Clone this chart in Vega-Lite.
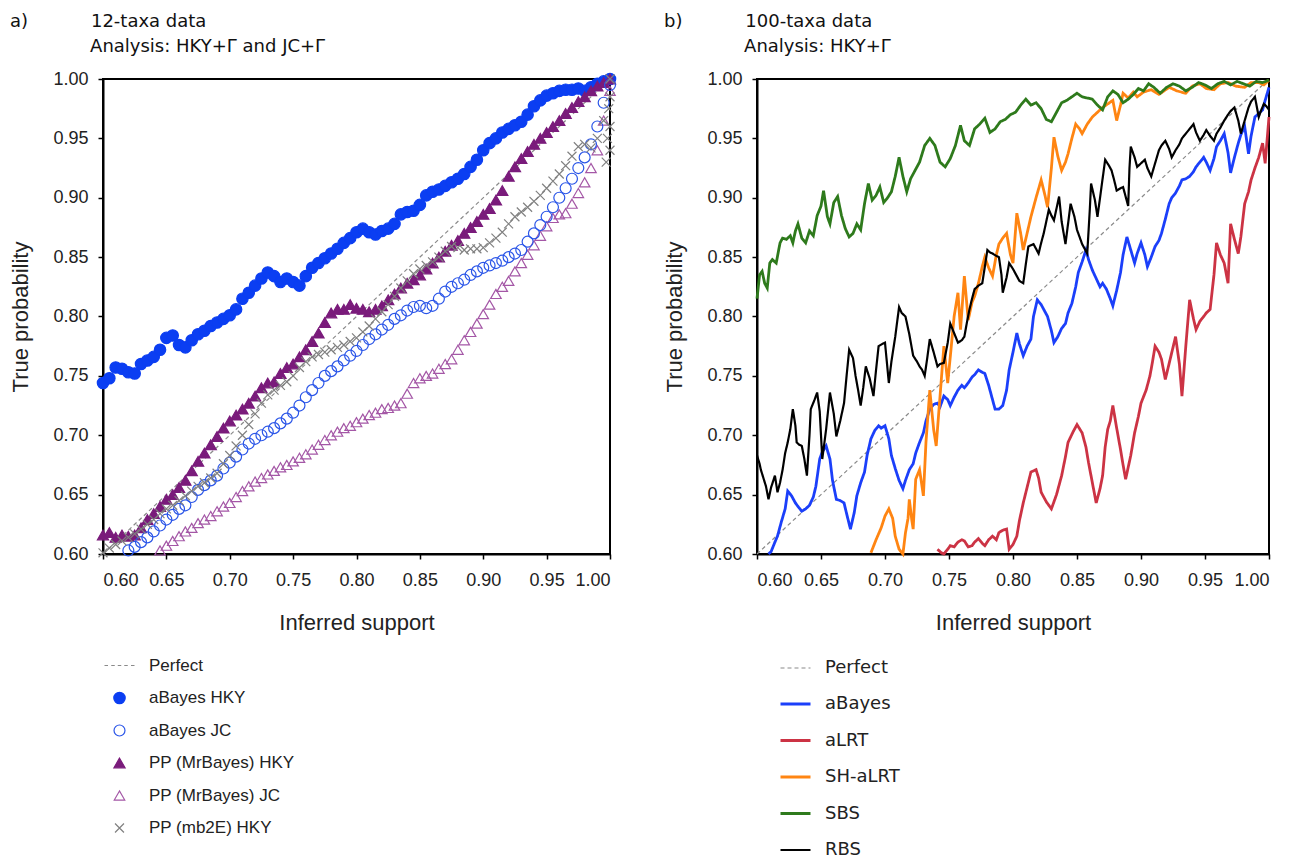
{
  "$schema": "https://vega.github.io/schema/vega-lite/v6.json",
  "background": "white",
  "padding": {"left": 8, "top": 12, "right": 5, "bottom": 0},
  "spacing": 42,
  "datasets": {
    "left": [
      {"s":"aBayes HKY","x":0.600,"y":0.744},{"s":"aBayes HKY","x":0.605,"y":0.748},{"s":"aBayes HKY","x":0.610,"y":0.757},{"s":"aBayes HKY","x":0.615,"y":0.756},{"s":"aBayes HKY","x":0.620,"y":0.753},{"s":"aBayes HKY","x":0.625,"y":0.752},{"s":"aBayes HKY","x":0.630,"y":0.760},{"s":"aBayes HKY","x":0.635,"y":0.763},{"s":"aBayes HKY","x":0.640,"y":0.766},{"s":"aBayes HKY","x":0.645,"y":0.772},{"s":"aBayes HKY","x":0.650,"y":0.782},{"s":"aBayes HKY","x":0.655,"y":0.784},{"s":"aBayes HKY","x":0.660,"y":0.776},{"s":"aBayes HKY","x":0.665,"y":0.774},{"s":"aBayes HKY","x":0.670,"y":0.780},{"s":"aBayes HKY","x":0.675,"y":0.785},{"s":"aBayes HKY","x":0.680,"y":0.788},{"s":"aBayes HKY","x":0.685,"y":0.792},{"s":"aBayes HKY","x":0.690,"y":0.795},{"s":"aBayes HKY","x":0.695,"y":0.798},{"s":"aBayes HKY","x":0.700,"y":0.801},{"s":"aBayes HKY","x":0.705,"y":0.806},{"s":"aBayes HKY","x":0.710,"y":0.815},{"s":"aBayes HKY","x":0.715,"y":0.820},{"s":"aBayes HKY","x":0.720,"y":0.826},{"s":"aBayes HKY","x":0.725,"y":0.832},{"s":"aBayes HKY","x":0.730,"y":0.837},{"s":"aBayes HKY","x":0.735,"y":0.834},{"s":"aBayes HKY","x":0.740,"y":0.829},{"s":"aBayes HKY","x":0.745,"y":0.832},{"s":"aBayes HKY","x":0.750,"y":0.829},{"s":"aBayes HKY","x":0.755,"y":0.826},{"s":"aBayes HKY","x":0.760,"y":0.834},{"s":"aBayes HKY","x":0.765,"y":0.841},{"s":"aBayes HKY","x":0.770,"y":0.845},{"s":"aBayes HKY","x":0.775,"y":0.849},{"s":"aBayes HKY","x":0.780,"y":0.853},{"s":"aBayes HKY","x":0.785,"y":0.857},{"s":"aBayes HKY","x":0.790,"y":0.862},{"s":"aBayes HKY","x":0.795,"y":0.866},{"s":"aBayes HKY","x":0.800,"y":0.871},{"s":"aBayes HKY","x":0.805,"y":0.874},{"s":"aBayes HKY","x":0.810,"y":0.871},{"s":"aBayes HKY","x":0.815,"y":0.869},{"s":"aBayes HKY","x":0.820,"y":0.872},{"s":"aBayes HKY","x":0.825,"y":0.874},{"s":"aBayes HKY","x":0.830,"y":0.878},{"s":"aBayes HKY","x":0.835,"y":0.886},{"s":"aBayes HKY","x":0.840,"y":0.888},{"s":"aBayes HKY","x":0.845,"y":0.889},{"s":"aBayes HKY","x":0.850,"y":0.894},{"s":"aBayes HKY","x":0.855,"y":0.902},{"s":"aBayes HKY","x":0.860,"y":0.905},{"s":"aBayes HKY","x":0.865,"y":0.907},{"s":"aBayes HKY","x":0.870,"y":0.910},{"s":"aBayes HKY","x":0.875,"y":0.913},{"s":"aBayes HKY","x":0.880,"y":0.916},{"s":"aBayes HKY","x":0.885,"y":0.920},{"s":"aBayes HKY","x":0.890,"y":0.926},{"s":"aBayes HKY","x":0.895,"y":0.932},{"s":"aBayes HKY","x":0.900,"y":0.940},{"s":"aBayes HKY","x":0.905,"y":0.946},{"s":"aBayes HKY","x":0.910,"y":0.950},{"s":"aBayes HKY","x":0.915,"y":0.955},{"s":"aBayes HKY","x":0.920,"y":0.958},{"s":"aBayes HKY","x":0.925,"y":0.961},{"s":"aBayes HKY","x":0.930,"y":0.964},{"s":"aBayes HKY","x":0.935,"y":0.970},{"s":"aBayes HKY","x":0.940,"y":0.977},{"s":"aBayes HKY","x":0.945,"y":0.982},{"s":"aBayes HKY","x":0.950,"y":0.986},{"s":"aBayes HKY","x":0.955,"y":0.988},{"s":"aBayes HKY","x":0.960,"y":0.990},{"s":"aBayes HKY","x":0.965,"y":0.991},{"s":"aBayes HKY","x":0.970,"y":0.991},{"s":"aBayes HKY","x":0.975,"y":0.992},{"s":"aBayes HKY","x":0.980,"y":0.990},{"s":"aBayes HKY","x":0.985,"y":0.993},{"s":"aBayes HKY","x":0.990,"y":0.996},{"s":"aBayes HKY","x":0.995,"y":0.998},{"s":"aBayes HKY","x":1.000,"y":1.000},
      {"s":"PP (MrBayes) HKY","x":0.600,"y":0.616},{"s":"PP (MrBayes) HKY","x":0.605,"y":0.618},{"s":"PP (MrBayes) HKY","x":0.610,"y":0.614},{"s":"PP (MrBayes) HKY","x":0.615,"y":0.616},{"s":"PP (MrBayes) HKY","x":0.620,"y":0.615},{"s":"PP (MrBayes) HKY","x":0.625,"y":0.616},{"s":"PP (MrBayes) HKY","x":0.630,"y":0.622},{"s":"PP (MrBayes) HKY","x":0.635,"y":0.629},{"s":"PP (MrBayes) HKY","x":0.640,"y":0.634},{"s":"PP (MrBayes) HKY","x":0.645,"y":0.640},{"s":"PP (MrBayes) HKY","x":0.650,"y":0.646},{"s":"PP (MrBayes) HKY","x":0.655,"y":0.650},{"s":"PP (MrBayes) HKY","x":0.660,"y":0.656},{"s":"PP (MrBayes) HKY","x":0.665,"y":0.662},{"s":"PP (MrBayes) HKY","x":0.670,"y":0.670},{"s":"PP (MrBayes) HKY","x":0.675,"y":0.678},{"s":"PP (MrBayes) HKY","x":0.680,"y":0.685},{"s":"PP (MrBayes) HKY","x":0.685,"y":0.692},{"s":"PP (MrBayes) HKY","x":0.690,"y":0.699},{"s":"PP (MrBayes) HKY","x":0.695,"y":0.706},{"s":"PP (MrBayes) HKY","x":0.700,"y":0.712},{"s":"PP (MrBayes) HKY","x":0.705,"y":0.717},{"s":"PP (MrBayes) HKY","x":0.710,"y":0.722},{"s":"PP (MrBayes) HKY","x":0.715,"y":0.727},{"s":"PP (MrBayes) HKY","x":0.720,"y":0.733},{"s":"PP (MrBayes) HKY","x":0.725,"y":0.740},{"s":"PP (MrBayes) HKY","x":0.730,"y":0.744},{"s":"PP (MrBayes) HKY","x":0.735,"y":0.745},{"s":"PP (MrBayes) HKY","x":0.740,"y":0.752},{"s":"PP (MrBayes) HKY","x":0.745,"y":0.757},{"s":"PP (MrBayes) HKY","x":0.750,"y":0.760},{"s":"PP (MrBayes) HKY","x":0.755,"y":0.766},{"s":"PP (MrBayes) HKY","x":0.760,"y":0.772},{"s":"PP (MrBayes) HKY","x":0.765,"y":0.779},{"s":"PP (MrBayes) HKY","x":0.770,"y":0.786},{"s":"PP (MrBayes) HKY","x":0.775,"y":0.795},{"s":"PP (MrBayes) HKY","x":0.780,"y":0.803},{"s":"PP (MrBayes) HKY","x":0.785,"y":0.806},{"s":"PP (MrBayes) HKY","x":0.790,"y":0.806},{"s":"PP (MrBayes) HKY","x":0.795,"y":0.810},{"s":"PP (MrBayes) HKY","x":0.800,"y":0.807},{"s":"PP (MrBayes) HKY","x":0.805,"y":0.806},{"s":"PP (MrBayes) HKY","x":0.810,"y":0.804},{"s":"PP (MrBayes) HKY","x":0.815,"y":0.806},{"s":"PP (MrBayes) HKY","x":0.820,"y":0.809},{"s":"PP (MrBayes) HKY","x":0.825,"y":0.814},{"s":"PP (MrBayes) HKY","x":0.830,"y":0.819},{"s":"PP (MrBayes) HKY","x":0.835,"y":0.824},{"s":"PP (MrBayes) HKY","x":0.840,"y":0.828},{"s":"PP (MrBayes) HKY","x":0.845,"y":0.831},{"s":"PP (MrBayes) HKY","x":0.850,"y":0.835},{"s":"PP (MrBayes) HKY","x":0.855,"y":0.840},{"s":"PP (MrBayes) HKY","x":0.860,"y":0.845},{"s":"PP (MrBayes) HKY","x":0.865,"y":0.850},{"s":"PP (MrBayes) HKY","x":0.870,"y":0.855},{"s":"PP (MrBayes) HKY","x":0.875,"y":0.860},{"s":"PP (MrBayes) HKY","x":0.880,"y":0.864},{"s":"PP (MrBayes) HKY","x":0.885,"y":0.870},{"s":"PP (MrBayes) HKY","x":0.890,"y":0.875},{"s":"PP (MrBayes) HKY","x":0.895,"y":0.880},{"s":"PP (MrBayes) HKY","x":0.900,"y":0.886},{"s":"PP (MrBayes) HKY","x":0.905,"y":0.891},{"s":"PP (MrBayes) HKY","x":0.910,"y":0.898},{"s":"PP (MrBayes) HKY","x":0.915,"y":0.906},{"s":"PP (MrBayes) HKY","x":0.920,"y":0.918},{"s":"PP (MrBayes) HKY","x":0.925,"y":0.926},{"s":"PP (MrBayes) HKY","x":0.930,"y":0.933},{"s":"PP (MrBayes) HKY","x":0.935,"y":0.939},{"s":"PP (MrBayes) HKY","x":0.940,"y":0.945},{"s":"PP (MrBayes) HKY","x":0.945,"y":0.950},{"s":"PP (MrBayes) HKY","x":0.950,"y":0.955},{"s":"PP (MrBayes) HKY","x":0.955,"y":0.960},{"s":"PP (MrBayes) HKY","x":0.960,"y":0.965},{"s":"PP (MrBayes) HKY","x":0.965,"y":0.971},{"s":"PP (MrBayes) HKY","x":0.970,"y":0.976},{"s":"PP (MrBayes) HKY","x":0.975,"y":0.981},{"s":"PP (MrBayes) HKY","x":0.980,"y":0.985},{"s":"PP (MrBayes) HKY","x":0.985,"y":0.990},{"s":"PP (MrBayes) HKY","x":0.990,"y":0.994},{"s":"PP (MrBayes) HKY","x":0.995,"y":0.997},{"s":"PP (MrBayes) HKY","x":1.000,"y":1.000},
      {"s":"PP (MrBayes) JC","x":0.645,"y":0.603},{"s":"PP (MrBayes) JC","x":0.650,"y":0.607},{"s":"PP (MrBayes) JC","x":0.655,"y":0.611},{"s":"PP (MrBayes) JC","x":0.660,"y":0.615},{"s":"PP (MrBayes) JC","x":0.665,"y":0.619},{"s":"PP (MrBayes) JC","x":0.670,"y":0.622},{"s":"PP (MrBayes) JC","x":0.675,"y":0.626},{"s":"PP (MrBayes) JC","x":0.680,"y":0.629},{"s":"PP (MrBayes) JC","x":0.685,"y":0.632},{"s":"PP (MrBayes) JC","x":0.690,"y":0.636},{"s":"PP (MrBayes) JC","x":0.695,"y":0.640},{"s":"PP (MrBayes) JC","x":0.700,"y":0.643},{"s":"PP (MrBayes) JC","x":0.705,"y":0.648},{"s":"PP (MrBayes) JC","x":0.710,"y":0.653},{"s":"PP (MrBayes) JC","x":0.715,"y":0.657},{"s":"PP (MrBayes) JC","x":0.720,"y":0.661},{"s":"PP (MrBayes) JC","x":0.725,"y":0.664},{"s":"PP (MrBayes) JC","x":0.730,"y":0.667},{"s":"PP (MrBayes) JC","x":0.735,"y":0.670},{"s":"PP (MrBayes) JC","x":0.740,"y":0.673},{"s":"PP (MrBayes) JC","x":0.745,"y":0.675},{"s":"PP (MrBayes) JC","x":0.750,"y":0.678},{"s":"PP (MrBayes) JC","x":0.755,"y":0.681},{"s":"PP (MrBayes) JC","x":0.760,"y":0.684},{"s":"PP (MrBayes) JC","x":0.765,"y":0.688},{"s":"PP (MrBayes) JC","x":0.770,"y":0.692},{"s":"PP (MrBayes) JC","x":0.775,"y":0.696},{"s":"PP (MrBayes) JC","x":0.780,"y":0.700},{"s":"PP (MrBayes) JC","x":0.785,"y":0.703},{"s":"PP (MrBayes) JC","x":0.790,"y":0.706},{"s":"PP (MrBayes) JC","x":0.795,"y":0.708},{"s":"PP (MrBayes) JC","x":0.800,"y":0.711},{"s":"PP (MrBayes) JC","x":0.805,"y":0.714},{"s":"PP (MrBayes) JC","x":0.810,"y":0.717},{"s":"PP (MrBayes) JC","x":0.815,"y":0.719},{"s":"PP (MrBayes) JC","x":0.820,"y":0.722},{"s":"PP (MrBayes) JC","x":0.825,"y":0.723},{"s":"PP (MrBayes) JC","x":0.830,"y":0.725},{"s":"PP (MrBayes) JC","x":0.835,"y":0.727},{"s":"PP (MrBayes) JC","x":0.840,"y":0.735},{"s":"PP (MrBayes) JC","x":0.845,"y":0.744},{"s":"PP (MrBayes) JC","x":0.850,"y":0.748},{"s":"PP (MrBayes) JC","x":0.855,"y":0.750},{"s":"PP (MrBayes) JC","x":0.860,"y":0.752},{"s":"PP (MrBayes) JC","x":0.865,"y":0.756},{"s":"PP (MrBayes) JC","x":0.870,"y":0.760},{"s":"PP (MrBayes) JC","x":0.875,"y":0.764},{"s":"PP (MrBayes) JC","x":0.880,"y":0.772},{"s":"PP (MrBayes) JC","x":0.885,"y":0.780},{"s":"PP (MrBayes) JC","x":0.890,"y":0.787},{"s":"PP (MrBayes) JC","x":0.895,"y":0.794},{"s":"PP (MrBayes) JC","x":0.900,"y":0.802},{"s":"PP (MrBayes) JC","x":0.905,"y":0.810},{"s":"PP (MrBayes) JC","x":0.910,"y":0.819},{"s":"PP (MrBayes) JC","x":0.915,"y":0.825},{"s":"PP (MrBayes) JC","x":0.920,"y":0.830},{"s":"PP (MrBayes) JC","x":0.925,"y":0.838},{"s":"PP (MrBayes) JC","x":0.930,"y":0.845},{"s":"PP (MrBayes) JC","x":0.935,"y":0.852},{"s":"PP (MrBayes) JC","x":0.940,"y":0.860},{"s":"PP (MrBayes) JC","x":0.945,"y":0.868},{"s":"PP (MrBayes) JC","x":0.950,"y":0.876},{"s":"PP (MrBayes) JC","x":0.955,"y":0.883},{"s":"PP (MrBayes) JC","x":0.960,"y":0.886},{"s":"PP (MrBayes) JC","x":0.965,"y":0.887},{"s":"PP (MrBayes) JC","x":0.970,"y":0.895},{"s":"PP (MrBayes) JC","x":0.975,"y":0.904},{"s":"PP (MrBayes) JC","x":0.980,"y":0.913},{"s":"PP (MrBayes) JC","x":0.985,"y":0.925},{"s":"PP (MrBayes) JC","x":0.990,"y":0.940},{"s":"PP (MrBayes) JC","x":0.995,"y":0.965},{"s":"PP (MrBayes) JC","x":1.000,"y":0.990},
      {"s":"aBayes JC","x":0.620,"y":0.603},{"s":"aBayes JC","x":0.625,"y":0.606},{"s":"aBayes JC","x":0.630,"y":0.610},{"s":"aBayes JC","x":0.635,"y":0.614},{"s":"aBayes JC","x":0.640,"y":0.619},{"s":"aBayes JC","x":0.645,"y":0.624},{"s":"aBayes JC","x":0.650,"y":0.629},{"s":"aBayes JC","x":0.655,"y":0.633},{"s":"aBayes JC","x":0.660,"y":0.638},{"s":"aBayes JC","x":0.665,"y":0.641},{"s":"aBayes JC","x":0.670,"y":0.648},{"s":"aBayes JC","x":0.675,"y":0.654},{"s":"aBayes JC","x":0.680,"y":0.658},{"s":"aBayes JC","x":0.685,"y":0.662},{"s":"aBayes JC","x":0.690,"y":0.666},{"s":"aBayes JC","x":0.695,"y":0.672},{"s":"aBayes JC","x":0.700,"y":0.677},{"s":"aBayes JC","x":0.705,"y":0.682},{"s":"aBayes JC","x":0.710,"y":0.688},{"s":"aBayes JC","x":0.715,"y":0.693},{"s":"aBayes JC","x":0.720,"y":0.697},{"s":"aBayes JC","x":0.725,"y":0.700},{"s":"aBayes JC","x":0.730,"y":0.703},{"s":"aBayes JC","x":0.735,"y":0.706},{"s":"aBayes JC","x":0.740,"y":0.710},{"s":"aBayes JC","x":0.745,"y":0.714},{"s":"aBayes JC","x":0.750,"y":0.719},{"s":"aBayes JC","x":0.755,"y":0.725},{"s":"aBayes JC","x":0.760,"y":0.732},{"s":"aBayes JC","x":0.765,"y":0.738},{"s":"aBayes JC","x":0.770,"y":0.744},{"s":"aBayes JC","x":0.775,"y":0.750},{"s":"aBayes JC","x":0.780,"y":0.754},{"s":"aBayes JC","x":0.785,"y":0.758},{"s":"aBayes JC","x":0.790,"y":0.763},{"s":"aBayes JC","x":0.795,"y":0.767},{"s":"aBayes JC","x":0.800,"y":0.771},{"s":"aBayes JC","x":0.805,"y":0.776},{"s":"aBayes JC","x":0.810,"y":0.781},{"s":"aBayes JC","x":0.815,"y":0.785},{"s":"aBayes JC","x":0.820,"y":0.789},{"s":"aBayes JC","x":0.825,"y":0.793},{"s":"aBayes JC","x":0.830,"y":0.798},{"s":"aBayes JC","x":0.835,"y":0.801},{"s":"aBayes JC","x":0.840,"y":0.805},{"s":"aBayes JC","x":0.845,"y":0.808},{"s":"aBayes JC","x":0.850,"y":0.809},{"s":"aBayes JC","x":0.855,"y":0.807},{"s":"aBayes JC","x":0.860,"y":0.809},{"s":"aBayes JC","x":0.865,"y":0.815},{"s":"aBayes JC","x":0.870,"y":0.821},{"s":"aBayes JC","x":0.875,"y":0.825},{"s":"aBayes JC","x":0.880,"y":0.828},{"s":"aBayes JC","x":0.885,"y":0.831},{"s":"aBayes JC","x":0.890,"y":0.835},{"s":"aBayes JC","x":0.895,"y":0.838},{"s":"aBayes JC","x":0.900,"y":0.841},{"s":"aBayes JC","x":0.905,"y":0.843},{"s":"aBayes JC","x":0.910,"y":0.845},{"s":"aBayes JC","x":0.915,"y":0.847},{"s":"aBayes JC","x":0.920,"y":0.850},{"s":"aBayes JC","x":0.925,"y":0.853},{"s":"aBayes JC","x":0.930,"y":0.856},{"s":"aBayes JC","x":0.935,"y":0.863},{"s":"aBayes JC","x":0.940,"y":0.870},{"s":"aBayes JC","x":0.945,"y":0.877},{"s":"aBayes JC","x":0.950,"y":0.884},{"s":"aBayes JC","x":0.955,"y":0.892},{"s":"aBayes JC","x":0.960,"y":0.900},{"s":"aBayes JC","x":0.965,"y":0.908},{"s":"aBayes JC","x":0.970,"y":0.916},{"s":"aBayes JC","x":0.975,"y":0.925},{"s":"aBayes JC","x":0.980,"y":0.934},{"s":"aBayes JC","x":0.985,"y":0.945},{"s":"aBayes JC","x":0.990,"y":0.960},{"s":"aBayes JC","x":0.995,"y":0.980},{"s":"aBayes JC","x":1.000,"y":0.995},
      {"s":"PP (mb2E) HKY","x":0.600,"y":0.601},{"s":"PP (mb2E) HKY","x":0.605,"y":0.605},{"s":"PP (mb2E) HKY","x":0.610,"y":0.608},{"s":"PP (mb2E) HKY","x":0.615,"y":0.611},{"s":"PP (mb2E) HKY","x":0.620,"y":0.614},{"s":"PP (mb2E) HKY","x":0.625,"y":0.617},{"s":"PP (mb2E) HKY","x":0.630,"y":0.621},{"s":"PP (mb2E) HKY","x":0.635,"y":0.625},{"s":"PP (mb2E) HKY","x":0.640,"y":0.629},{"s":"PP (mb2E) HKY","x":0.645,"y":0.634},{"s":"PP (mb2E) HKY","x":0.650,"y":0.638},{"s":"PP (mb2E) HKY","x":0.655,"y":0.641},{"s":"PP (mb2E) HKY","x":0.660,"y":0.645},{"s":"PP (mb2E) HKY","x":0.665,"y":0.649},{"s":"PP (mb2E) HKY","x":0.670,"y":0.653},{"s":"PP (mb2E) HKY","x":0.675,"y":0.657},{"s":"PP (mb2E) HKY","x":0.680,"y":0.660},{"s":"PP (mb2E) HKY","x":0.685,"y":0.664},{"s":"PP (mb2E) HKY","x":0.690,"y":0.668},{"s":"PP (mb2E) HKY","x":0.695,"y":0.676},{"s":"PP (mb2E) HKY","x":0.700,"y":0.683},{"s":"PP (mb2E) HKY","x":0.705,"y":0.691},{"s":"PP (mb2E) HKY","x":0.710,"y":0.700},{"s":"PP (mb2E) HKY","x":0.715,"y":0.709},{"s":"PP (mb2E) HKY","x":0.720,"y":0.718},{"s":"PP (mb2E) HKY","x":0.725,"y":0.727},{"s":"PP (mb2E) HKY","x":0.730,"y":0.734},{"s":"PP (mb2E) HKY","x":0.735,"y":0.738},{"s":"PP (mb2E) HKY","x":0.740,"y":0.742},{"s":"PP (mb2E) HKY","x":0.745,"y":0.745},{"s":"PP (mb2E) HKY","x":0.750,"y":0.750},{"s":"PP (mb2E) HKY","x":0.755,"y":0.757},{"s":"PP (mb2E) HKY","x":0.760,"y":0.762},{"s":"PP (mb2E) HKY","x":0.765,"y":0.766},{"s":"PP (mb2E) HKY","x":0.770,"y":0.768},{"s":"PP (mb2E) HKY","x":0.775,"y":0.770},{"s":"PP (mb2E) HKY","x":0.780,"y":0.772},{"s":"PP (mb2E) HKY","x":0.785,"y":0.774},{"s":"PP (mb2E) HKY","x":0.790,"y":0.776},{"s":"PP (mb2E) HKY","x":0.795,"y":0.779},{"s":"PP (mb2E) HKY","x":0.800,"y":0.782},{"s":"PP (mb2E) HKY","x":0.805,"y":0.787},{"s":"PP (mb2E) HKY","x":0.810,"y":0.792},{"s":"PP (mb2E) HKY","x":0.815,"y":0.798},{"s":"PP (mb2E) HKY","x":0.820,"y":0.804},{"s":"PP (mb2E) HKY","x":0.825,"y":0.810},{"s":"PP (mb2E) HKY","x":0.830,"y":0.817},{"s":"PP (mb2E) HKY","x":0.835,"y":0.824},{"s":"PP (mb2E) HKY","x":0.840,"y":0.830},{"s":"PP (mb2E) HKY","x":0.845,"y":0.836},{"s":"PP (mb2E) HKY","x":0.850,"y":0.840},{"s":"PP (mb2E) HKY","x":0.855,"y":0.843},{"s":"PP (mb2E) HKY","x":0.860,"y":0.846},{"s":"PP (mb2E) HKY","x":0.865,"y":0.850},{"s":"PP (mb2E) HKY","x":0.870,"y":0.855},{"s":"PP (mb2E) HKY","x":0.875,"y":0.859},{"s":"PP (mb2E) HKY","x":0.880,"y":0.858},{"s":"PP (mb2E) HKY","x":0.885,"y":0.856},{"s":"PP (mb2E) HKY","x":0.890,"y":0.857},{"s":"PP (mb2E) HKY","x":0.895,"y":0.857},{"s":"PP (mb2E) HKY","x":0.900,"y":0.858},{"s":"PP (mb2E) HKY","x":0.905,"y":0.862},{"s":"PP (mb2E) HKY","x":0.910,"y":0.866},{"s":"PP (mb2E) HKY","x":0.915,"y":0.871},{"s":"PP (mb2E) HKY","x":0.920,"y":0.878},{"s":"PP (mb2E) HKY","x":0.925,"y":0.884},{"s":"PP (mb2E) HKY","x":0.930,"y":0.888},{"s":"PP (mb2E) HKY","x":0.935,"y":0.892},{"s":"PP (mb2E) HKY","x":0.940,"y":0.897},{"s":"PP (mb2E) HKY","x":0.945,"y":0.902},{"s":"PP (mb2E) HKY","x":0.950,"y":0.908},{"s":"PP (mb2E) HKY","x":0.955,"y":0.914},{"s":"PP (mb2E) HKY","x":0.960,"y":0.920},{"s":"PP (mb2E) HKY","x":0.965,"y":0.927},{"s":"PP (mb2E) HKY","x":0.970,"y":0.935},{"s":"PP (mb2E) HKY","x":0.975,"y":0.943},{"s":"PP (mb2E) HKY","x":0.980,"y":0.945},{"s":"PP (mb2E) HKY","x":0.985,"y":0.942},{"s":"PP (mb2E) HKY","x":0.990,"y":0.950},{"s":"PP (mb2E) HKY","x":0.995,"y":0.965},{"s":"PP (mb2E) HKY","x":1.000,"y":0.985},{"s":"PP (mb2E) HKY","x":0.997,"y":0.930},{"s":"PP (mb2E) HKY","x":0.998,"y":0.950},{"s":"PP (mb2E) HKY","x":0.999,"y":0.975},{"s":"PP (mb2E) HKY","x":1.000,"y":0.960},{"s":"PP (mb2E) HKY","x":1.000,"y":0.940},{"s":"PP (mb2E) HKY","x":1.000,"y":1.000}
    ],
    "right": [
      {"s":"Perfect","x":0.6,"y":0.6},{"s":"Perfect","x":1.0,"y":1.0},
      {"s":"aLRT","x":0.741,"y":0.604},{"s":"aLRT","x":0.744,"y":0.601},{"s":"aLRT","x":0.746,"y":0.600},{"s":"aLRT","x":0.749,"y":0.604},{"s":"aLRT","x":0.751,"y":0.607},{"s":"aLRT","x":0.754,"y":0.606},{"s":"aLRT","x":0.757,"y":0.610},{"s":"aLRT","x":0.760,"y":0.612},{"s":"aLRT","x":0.762,"y":0.611},{"s":"aLRT","x":0.765,"y":0.606},{"s":"aLRT","x":0.768,"y":0.607},{"s":"aLRT","x":0.770,"y":0.610},{"s":"aLRT","x":0.773,"y":0.613},{"s":"aLRT","x":0.776,"y":0.609},{"s":"aLRT","x":0.778,"y":0.607},{"s":"aLRT","x":0.781,"y":0.612},{"s":"aLRT","x":0.784,"y":0.615},{"s":"aLRT","x":0.787,"y":0.612},{"s":"aLRT","x":0.789,"y":0.618},{"s":"aLRT","x":0.792,"y":0.620},{"s":"aLRT","x":0.795,"y":0.621},{"s":"aLRT","x":0.797,"y":0.604},{"s":"aLRT","x":0.800,"y":0.608},{"s":"aLRT","x":0.803,"y":0.615},{"s":"aLRT","x":0.805,"y":0.628},{"s":"aLRT","x":0.808,"y":0.643},{"s":"aLRT","x":0.811,"y":0.656},{"s":"aLRT","x":0.814,"y":0.669},{"s":"aLRT","x":0.818,"y":0.671},{"s":"aLRT","x":0.820,"y":0.664},{"s":"aLRT","x":0.822,"y":0.652},{"s":"aLRT","x":0.826,"y":0.644},{"s":"aLRT","x":0.830,"y":0.638},{"s":"aLRT","x":0.834,"y":0.650},{"s":"aLRT","x":0.838,"y":0.666},{"s":"aLRT","x":0.841,"y":0.682},{"s":"aLRT","x":0.843,"y":0.694},{"s":"aLRT","x":0.847,"y":0.703},{"s":"aLRT","x":0.850,"y":0.709},{"s":"aLRT","x":0.854,"y":0.702},{"s":"aLRT","x":0.857,"y":0.690},{"s":"aLRT","x":0.859,"y":0.677},{"s":"aLRT","x":0.862,"y":0.660},{"s":"aLRT","x":0.865,"y":0.643},{"s":"aLRT","x":0.868,"y":0.655},{"s":"aLRT","x":0.870,"y":0.666},{"s":"aLRT","x":0.872,"y":0.690},{"s":"aLRT","x":0.874,"y":0.705},{"s":"aLRT","x":0.876,"y":0.712},{"s":"aLRT","x":0.878,"y":0.725},{"s":"aLRT","x":0.881,"y":0.706},{"s":"aLRT","x":0.884,"y":0.688},{"s":"aLRT","x":0.886,"y":0.675},{"s":"aLRT","x":0.888,"y":0.663},{"s":"aLRT","x":0.892,"y":0.683},{"s":"aLRT","x":0.895,"y":0.702},{"s":"aLRT","x":0.898,"y":0.716},{"s":"aLRT","x":0.900,"y":0.727},{"s":"aLRT","x":0.904,"y":0.738},{"s":"aLRT","x":0.907,"y":0.750},{"s":"aLRT","x":0.909,"y":0.762},{"s":"aLRT","x":0.911,"y":0.775},{"s":"aLRT","x":0.914,"y":0.770},{"s":"aLRT","x":0.916,"y":0.764},{"s":"aLRT","x":0.919,"y":0.747},{"s":"aLRT","x":0.923,"y":0.765},{"s":"aLRT","x":0.927,"y":0.783},{"s":"aLRT","x":0.930,"y":0.760},{"s":"aLRT","x":0.932,"y":0.733},{"s":"aLRT","x":0.935,"y":0.775},{"s":"aLRT","x":0.938,"y":0.814},{"s":"aLRT","x":0.941,"y":0.798},{"s":"aLRT","x":0.943,"y":0.789},{"s":"aLRT","x":0.946,"y":0.796},{"s":"aLRT","x":0.949,"y":0.800},{"s":"aLRT","x":0.951,"y":0.803},{"s":"aLRT","x":0.954,"y":0.806},{"s":"aLRT","x":0.957,"y":0.835},{"s":"aLRT","x":0.959,"y":0.862},{"s":"aLRT","x":0.962,"y":0.852},{"s":"aLRT","x":0.965,"y":0.845},{"s":"aLRT","x":0.968,"y":0.828},{"s":"aLRT","x":0.970,"y":0.878},{"s":"aLRT","x":0.973,"y":0.865},{"s":"aLRT","x":0.976,"y":0.853},{"s":"aLRT","x":0.978,"y":0.867},{"s":"aLRT","x":0.981,"y":0.895},{"s":"aLRT","x":0.984,"y":0.905},{"s":"aLRT","x":0.986,"y":0.915},{"s":"aLRT","x":0.989,"y":0.925},{"s":"aLRT","x":0.992,"y":0.934},{"s":"aLRT","x":0.995,"y":0.946},{"s":"aLRT","x":0.997,"y":0.929},{"s":"aLRT","x":1.000,"y":0.968},
      {"s":"aBayes","x":0.609,"y":0.600},{"s":"aBayes","x":0.611,"y":0.602},{"s":"aBayes","x":0.614,"y":0.610},{"s":"aBayes","x":0.616,"y":0.615},{"s":"aBayes","x":0.619,"y":0.627},{"s":"aBayes","x":0.622,"y":0.638},{"s":"aBayes","x":0.624,"y":0.653},{"s":"aBayes","x":0.627,"y":0.649},{"s":"aBayes","x":0.630,"y":0.643},{"s":"aBayes","x":0.632,"y":0.640},{"s":"aBayes","x":0.635,"y":0.636},{"s":"aBayes","x":0.638,"y":0.638},{"s":"aBayes","x":0.641,"y":0.641},{"s":"aBayes","x":0.644,"y":0.648},{"s":"aBayes","x":0.646,"y":0.657},{"s":"aBayes","x":0.649,"y":0.680},{"s":"aBayes","x":0.651,"y":0.686},{"s":"aBayes","x":0.654,"y":0.691},{"s":"aBayes","x":0.657,"y":0.680},{"s":"aBayes","x":0.659,"y":0.662},{"s":"aBayes","x":0.662,"y":0.646},{"s":"aBayes","x":0.665,"y":0.645},{"s":"aBayes","x":0.668,"y":0.643},{"s":"aBayes","x":0.670,"y":0.634},{"s":"aBayes","x":0.673,"y":0.621},{"s":"aBayes","x":0.676,"y":0.635},{"s":"aBayes","x":0.678,"y":0.649},{"s":"aBayes","x":0.681,"y":0.660},{"s":"aBayes","x":0.684,"y":0.669},{"s":"aBayes","x":0.686,"y":0.683},{"s":"aBayes","x":0.689,"y":0.697},{"s":"aBayes","x":0.692,"y":0.704},{"s":"aBayes","x":0.695,"y":0.708},{"s":"aBayes","x":0.697,"y":0.706},{"s":"aBayes","x":0.700,"y":0.708},{"s":"aBayes","x":0.703,"y":0.697},{"s":"aBayes","x":0.705,"y":0.683},{"s":"aBayes","x":0.708,"y":0.672},{"s":"aBayes","x":0.711,"y":0.662},{"s":"aBayes","x":0.714,"y":0.655},{"s":"aBayes","x":0.716,"y":0.662},{"s":"aBayes","x":0.719,"y":0.671},{"s":"aBayes","x":0.722,"y":0.676},{"s":"aBayes","x":0.724,"y":0.685},{"s":"aBayes","x":0.727,"y":0.694},{"s":"aBayes","x":0.730,"y":0.702},{"s":"aBayes","x":0.732,"y":0.712},{"s":"aBayes","x":0.735,"y":0.722},{"s":"aBayes","x":0.738,"y":0.726},{"s":"aBayes","x":0.741,"y":0.727},{"s":"aBayes","x":0.743,"y":0.724},{"s":"aBayes","x":0.746,"y":0.733},{"s":"aBayes","x":0.749,"y":0.730},{"s":"aBayes","x":0.751,"y":0.725},{"s":"aBayes","x":0.754,"y":0.732},{"s":"aBayes","x":0.757,"y":0.738},{"s":"aBayes","x":0.760,"y":0.742},{"s":"aBayes","x":0.762,"y":0.740},{"s":"aBayes","x":0.765,"y":0.744},{"s":"aBayes","x":0.768,"y":0.749},{"s":"aBayes","x":0.770,"y":0.751},{"s":"aBayes","x":0.773,"y":0.755},{"s":"aBayes","x":0.776,"y":0.753},{"s":"aBayes","x":0.778,"y":0.752},{"s":"aBayes","x":0.781,"y":0.742},{"s":"aBayes","x":0.784,"y":0.730},{"s":"aBayes","x":0.786,"y":0.722},{"s":"aBayes","x":0.789,"y":0.722},{"s":"aBayes","x":0.792,"y":0.725},{"s":"aBayes","x":0.795,"y":0.738},{"s":"aBayes","x":0.797,"y":0.755},{"s":"aBayes","x":0.800,"y":0.770},{"s":"aBayes","x":0.803,"y":0.786},{"s":"aBayes","x":0.805,"y":0.777},{"s":"aBayes","x":0.808,"y":0.767},{"s":"aBayes","x":0.811,"y":0.775},{"s":"aBayes","x":0.814,"y":0.781},{"s":"aBayes","x":0.816,"y":0.800},{"s":"aBayes","x":0.819,"y":0.814},{"s":"aBayes","x":0.822,"y":0.810},{"s":"aBayes","x":0.824,"y":0.806},{"s":"aBayes","x":0.827,"y":0.800},{"s":"aBayes","x":0.830,"y":0.788},{"s":"aBayes","x":0.832,"y":0.778},{"s":"aBayes","x":0.835,"y":0.783},{"s":"aBayes","x":0.838,"y":0.790},{"s":"aBayes","x":0.841,"y":0.794},{"s":"aBayes","x":0.843,"y":0.803},{"s":"aBayes","x":0.846,"y":0.811},{"s":"aBayes","x":0.849,"y":0.825},{"s":"aBayes","x":0.851,"y":0.837},{"s":"aBayes","x":0.854,"y":0.846},{"s":"aBayes","x":0.857,"y":0.856},{"s":"aBayes","x":0.859,"y":0.848},{"s":"aBayes","x":0.862,"y":0.839},{"s":"aBayes","x":0.865,"y":0.832},{"s":"aBayes","x":0.868,"y":0.825},{"s":"aBayes","x":0.870,"y":0.828},{"s":"aBayes","x":0.873,"y":0.823},{"s":"aBayes","x":0.876,"y":0.815},{"s":"aBayes","x":0.878,"y":0.809},{"s":"aBayes","x":0.881,"y":0.822},{"s":"aBayes","x":0.884,"y":0.837},{"s":"aBayes","x":0.886,"y":0.852},{"s":"aBayes","x":0.889,"y":0.867},{"s":"aBayes","x":0.892,"y":0.856},{"s":"aBayes","x":0.895,"y":0.845},{"s":"aBayes","x":0.897,"y":0.853},{"s":"aBayes","x":0.900,"y":0.862},{"s":"aBayes","x":0.903,"y":0.852},{"s":"aBayes","x":0.905,"y":0.842},{"s":"aBayes","x":0.908,"y":0.850},{"s":"aBayes","x":0.911,"y":0.859},{"s":"aBayes","x":0.914,"y":0.864},{"s":"aBayes","x":0.916,"y":0.870},{"s":"aBayes","x":0.919,"y":0.882},{"s":"aBayes","x":0.922,"y":0.895},{"s":"aBayes","x":0.924,"y":0.900},{"s":"aBayes","x":0.927,"y":0.904},{"s":"aBayes","x":0.930,"y":0.910},{"s":"aBayes","x":0.932,"y":0.915},{"s":"aBayes","x":0.935,"y":0.916},{"s":"aBayes","x":0.938,"y":0.918},{"s":"aBayes","x":0.941,"y":0.922},{"s":"aBayes","x":0.943,"y":0.926},{"s":"aBayes","x":0.946,"y":0.930},{"s":"aBayes","x":0.949,"y":0.934},{"s":"aBayes","x":0.951,"y":0.930},{"s":"aBayes","x":0.954,"y":0.923},{"s":"aBayes","x":0.957,"y":0.933},{"s":"aBayes","x":0.959,"y":0.943},{"s":"aBayes","x":0.962,"y":0.948},{"s":"aBayes","x":0.965,"y":0.954},{"s":"aBayes","x":0.968,"y":0.938},{"s":"aBayes","x":0.970,"y":0.921},{"s":"aBayes","x":0.973,"y":0.934},{"s":"aBayes","x":0.976,"y":0.946},{"s":"aBayes","x":0.978,"y":0.953},{"s":"aBayes","x":0.981,"y":0.960},{"s":"aBayes","x":0.984,"y":0.937},{"s":"aBayes","x":0.986,"y":0.952},{"s":"aBayes","x":0.989,"y":0.968},{"s":"aBayes","x":0.992,"y":0.971},{"s":"aBayes","x":0.995,"y":0.974},{"s":"aBayes","x":0.997,"y":0.982},{"s":"aBayes","x":1.000,"y":0.993},
      {"s":"SH-aLRT","x":0.689,"y":0.601},{"s":"SH-aLRT","x":0.693,"y":0.612},{"s":"SH-aLRT","x":0.697,"y":0.622},{"s":"SH-aLRT","x":0.700,"y":0.632},{"s":"SH-aLRT","x":0.703,"y":0.638},{"s":"SH-aLRT","x":0.706,"y":0.630},{"s":"SH-aLRT","x":0.708,"y":0.615},{"s":"SH-aLRT","x":0.711,"y":0.604},{"s":"SH-aLRT","x":0.714,"y":0.600},{"s":"SH-aLRT","x":0.716,"y":0.618},{"s":"SH-aLRT","x":0.718,"y":0.630},{"s":"SH-aLRT","x":0.719,"y":0.646},{"s":"SH-aLRT","x":0.721,"y":0.628},{"s":"SH-aLRT","x":0.722,"y":0.621},{"s":"SH-aLRT","x":0.724,"y":0.663},{"s":"SH-aLRT","x":0.727,"y":0.671},{"s":"SH-aLRT","x":0.730,"y":0.649},{"s":"SH-aLRT","x":0.732,"y":0.694},{"s":"SH-aLRT","x":0.735,"y":0.738},{"s":"SH-aLRT","x":0.738,"y":0.705},{"s":"SH-aLRT","x":0.740,"y":0.691},{"s":"SH-aLRT","x":0.743,"y":0.733},{"s":"SH-aLRT","x":0.746,"y":0.775},{"s":"SH-aLRT","x":0.749,"y":0.744},{"s":"SH-aLRT","x":0.751,"y":0.766},{"s":"SH-aLRT","x":0.754,"y":0.800},{"s":"SH-aLRT","x":0.757,"y":0.820},{"s":"SH-aLRT","x":0.759,"y":0.789},{"s":"SH-aLRT","x":0.762,"y":0.834},{"s":"SH-aLRT","x":0.765,"y":0.797},{"s":"SH-aLRT","x":0.768,"y":0.812},{"s":"SH-aLRT","x":0.770,"y":0.817},{"s":"SH-aLRT","x":0.773,"y":0.828},{"s":"SH-aLRT","x":0.776,"y":0.842},{"s":"SH-aLRT","x":0.778,"y":0.850},{"s":"SH-aLRT","x":0.781,"y":0.841},{"s":"SH-aLRT","x":0.784,"y":0.834},{"s":"SH-aLRT","x":0.787,"y":0.852},{"s":"SH-aLRT","x":0.789,"y":0.861},{"s":"SH-aLRT","x":0.792,"y":0.866},{"s":"SH-aLRT","x":0.795,"y":0.870},{"s":"SH-aLRT","x":0.798,"y":0.852},{"s":"SH-aLRT","x":0.800,"y":0.845},{"s":"SH-aLRT","x":0.803,"y":0.887},{"s":"SH-aLRT","x":0.806,"y":0.870},{"s":"SH-aLRT","x":0.808,"y":0.856},{"s":"SH-aLRT","x":0.811,"y":0.870},{"s":"SH-aLRT","x":0.814,"y":0.884},{"s":"SH-aLRT","x":0.818,"y":0.900},{"s":"SH-aLRT","x":0.822,"y":0.915},{"s":"SH-aLRT","x":0.825,"y":0.902},{"s":"SH-aLRT","x":0.827,"y":0.892},{"s":"SH-aLRT","x":0.830,"y":0.925},{"s":"SH-aLRT","x":0.832,"y":0.951},{"s":"SH-aLRT","x":0.835,"y":0.935},{"s":"SH-aLRT","x":0.838,"y":0.923},{"s":"SH-aLRT","x":0.841,"y":0.930},{"s":"SH-aLRT","x":0.843,"y":0.937},{"s":"SH-aLRT","x":0.846,"y":0.950},{"s":"SH-aLRT","x":0.849,"y":0.962},{"s":"SH-aLRT","x":0.852,"y":0.958},{"s":"SH-aLRT","x":0.854,"y":0.954},{"s":"SH-aLRT","x":0.858,"y":0.962},{"s":"SH-aLRT","x":0.862,"y":0.968},{"s":"SH-aLRT","x":0.866,"y":0.972},{"s":"SH-aLRT","x":0.870,"y":0.976},{"s":"SH-aLRT","x":0.874,"y":0.979},{"s":"SH-aLRT","x":0.878,"y":0.982},{"s":"SH-aLRT","x":0.881,"y":0.965},{"s":"SH-aLRT","x":0.884,"y":0.978},{"s":"SH-aLRT","x":0.886,"y":0.988},{"s":"SH-aLRT","x":0.890,"y":0.984},{"s":"SH-aLRT","x":0.894,"y":0.989},{"s":"SH-aLRT","x":0.897,"y":0.985},{"s":"SH-aLRT","x":0.902,"y":0.989},{"s":"SH-aLRT","x":0.908,"y":0.991},{"s":"SH-aLRT","x":0.914,"y":0.987},{"s":"SH-aLRT","x":0.922,"y":0.993},{"s":"SH-aLRT","x":0.928,"y":0.990},{"s":"SH-aLRT","x":0.935,"y":0.988},{"s":"SH-aLRT","x":0.940,"y":0.994},{"s":"SH-aLRT","x":0.946,"y":0.996},{"s":"SH-aLRT","x":0.951,"y":0.992},{"s":"SH-aLRT","x":0.957,"y":0.991},{"s":"SH-aLRT","x":0.962,"y":0.996},{"s":"SH-aLRT","x":0.968,"y":0.997},{"s":"SH-aLRT","x":0.974,"y":0.994},{"s":"SH-aLRT","x":0.981,"y":0.993},{"s":"SH-aLRT","x":0.986,"y":0.997},{"s":"SH-aLRT","x":0.992,"y":0.997},{"s":"SH-aLRT","x":0.996,"y":0.995},{"s":"SH-aLRT","x":1.000,"y":0.999},
      {"s":"SBS","x":0.600,"y":0.815},{"s":"SBS","x":0.602,"y":0.835},{"s":"SBS","x":0.604,"y":0.838},{"s":"SBS","x":0.606,"y":0.828},{"s":"SBS","x":0.608,"y":0.824},{"s":"SBS","x":0.610,"y":0.845},{"s":"SBS","x":0.612,"y":0.848},{"s":"SBS","x":0.615,"y":0.845},{"s":"SBS","x":0.618,"y":0.862},{"s":"SBS","x":0.620,"y":0.866},{"s":"SBS","x":0.623,"y":0.865},{"s":"SBS","x":0.626,"y":0.868},{"s":"SBS","x":0.628,"y":0.862},{"s":"SBS","x":0.630,"y":0.872},{"s":"SBS","x":0.632,"y":0.878},{"s":"SBS","x":0.635,"y":0.866},{"s":"SBS","x":0.638,"y":0.862},{"s":"SBS","x":0.641,"y":0.872},{"s":"SBS","x":0.644,"y":0.868},{"s":"SBS","x":0.647,"y":0.885},{"s":"SBS","x":0.650,"y":0.893},{"s":"SBS","x":0.652,"y":0.906},{"s":"SBS","x":0.655,"y":0.884},{"s":"SBS","x":0.657,"y":0.878},{"s":"SBS","x":0.660,"y":0.896},{"s":"SBS","x":0.663,"y":0.901},{"s":"SBS","x":0.666,"y":0.885},{"s":"SBS","x":0.669,"y":0.874},{"s":"SBS","x":0.672,"y":0.867},{"s":"SBS","x":0.675,"y":0.870},{"s":"SBS","x":0.678,"y":0.878},{"s":"SBS","x":0.681,"y":0.873},{"s":"SBS","x":0.684,"y":0.895},{"s":"SBS","x":0.687,"y":0.912},{"s":"SBS","x":0.690,"y":0.898},{"s":"SBS","x":0.693,"y":0.902},{"s":"SBS","x":0.696,"y":0.909},{"s":"SBS","x":0.699,"y":0.896},{"s":"SBS","x":0.702,"y":0.900},{"s":"SBS","x":0.705,"y":0.905},{"s":"SBS","x":0.708,"y":0.918},{"s":"SBS","x":0.711,"y":0.934},{"s":"SBS","x":0.714,"y":0.918},{"s":"SBS","x":0.717,"y":0.905},{"s":"SBS","x":0.720,"y":0.916},{"s":"SBS","x":0.723,"y":0.922},{"s":"SBS","x":0.727,"y":0.930},{"s":"SBS","x":0.731,"y":0.944},{"s":"SBS","x":0.735,"y":0.950},{"s":"SBS","x":0.739,"y":0.944},{"s":"SBS","x":0.743,"y":0.930},{"s":"SBS","x":0.747,"y":0.926},{"s":"SBS","x":0.751,"y":0.933},{"s":"SBS","x":0.755,"y":0.944},{"s":"SBS","x":0.759,"y":0.961},{"s":"SBS","x":0.762,"y":0.948},{"s":"SBS","x":0.766,"y":0.944},{"s":"SBS","x":0.770,"y":0.958},{"s":"SBS","x":0.774,"y":0.962},{"s":"SBS","x":0.778,"y":0.967},{"s":"SBS","x":0.782,"y":0.955},{"s":"SBS","x":0.786,"y":0.958},{"s":"SBS","x":0.790,"y":0.964},{"s":"SBS","x":0.794,"y":0.966},{"s":"SBS","x":0.798,"y":0.970},{"s":"SBS","x":0.802,"y":0.972},{"s":"SBS","x":0.806,"y":0.978},{"s":"SBS","x":0.810,"y":0.983},{"s":"SBS","x":0.814,"y":0.978},{"s":"SBS","x":0.818,"y":0.980},{"s":"SBS","x":0.822,"y":0.975},{"s":"SBS","x":0.826,"y":0.966},{"s":"SBS","x":0.830,"y":0.964},{"s":"SBS","x":0.834,"y":0.972},{"s":"SBS","x":0.838,"y":0.980},{"s":"SBS","x":0.842,"y":0.982},{"s":"SBS","x":0.846,"y":0.985},{"s":"SBS","x":0.850,"y":0.988},{"s":"SBS","x":0.854,"y":0.985},{"s":"SBS","x":0.858,"y":0.984},{"s":"SBS","x":0.862,"y":0.983},{"s":"SBS","x":0.866,"y":0.978},{"s":"SBS","x":0.870,"y":0.974},{"s":"SBS","x":0.874,"y":0.985},{"s":"SBS","x":0.878,"y":0.990},{"s":"SBS","x":0.882,"y":0.987},{"s":"SBS","x":0.886,"y":0.980},{"s":"SBS","x":0.890,"y":0.983},{"s":"SBS","x":0.894,"y":0.987},{"s":"SBS","x":0.898,"y":0.992},{"s":"SBS","x":0.902,"y":0.990},{"s":"SBS","x":0.906,"y":0.996},{"s":"SBS","x":0.910,"y":0.993},{"s":"SBS","x":0.915,"y":0.988},{"s":"SBS","x":0.920,"y":0.993},{"s":"SBS","x":0.925,"y":0.996},{"s":"SBS","x":0.930,"y":0.994},{"s":"SBS","x":0.935,"y":0.990},{"s":"SBS","x":0.940,"y":0.993},{"s":"SBS","x":0.945,"y":0.997},{"s":"SBS","x":0.950,"y":0.995},{"s":"SBS","x":0.955,"y":0.992},{"s":"SBS","x":0.960,"y":0.996},{"s":"SBS","x":0.965,"y":0.998},{"s":"SBS","x":0.970,"y":0.995},{"s":"SBS","x":0.975,"y":0.998},{"s":"SBS","x":0.980,"y":0.996},{"s":"SBS","x":0.985,"y":0.994},{"s":"SBS","x":0.990,"y":0.998},{"s":"SBS","x":0.995,"y":0.997},{"s":"SBS","x":1.000,"y":0.999},
      {"s":"RBS","x":0.600,"y":0.683},{"s":"RBS","x":0.602,"y":0.676},{"s":"RBS","x":0.603,"y":0.671},{"s":"RBS","x":0.605,"y":0.664},{"s":"RBS","x":0.607,"y":0.657},{"s":"RBS","x":0.609,"y":0.646},{"s":"RBS","x":0.611,"y":0.656},{"s":"RBS","x":0.614,"y":0.666},{"s":"RBS","x":0.616,"y":0.652},{"s":"RBS","x":0.618,"y":0.660},{"s":"RBS","x":0.620,"y":0.671},{"s":"RBS","x":0.622,"y":0.685},{"s":"RBS","x":0.624,"y":0.694},{"s":"RBS","x":0.626,"y":0.705},{"s":"RBS","x":0.628,"y":0.722},{"s":"RBS","x":0.630,"y":0.708},{"s":"RBS","x":0.631,"y":0.694},{"s":"RBS","x":0.633,"y":0.692},{"s":"RBS","x":0.635,"y":0.691},{"s":"RBS","x":0.637,"y":0.680},{"s":"RBS","x":0.639,"y":0.666},{"s":"RBS","x":0.641,"y":0.700},{"s":"RBS","x":0.642,"y":0.722},{"s":"RBS","x":0.645,"y":0.730},{"s":"RBS","x":0.647,"y":0.736},{"s":"RBS","x":0.649,"y":0.720},{"s":"RBS","x":0.651,"y":0.680},{"s":"RBS","x":0.654,"y":0.705},{"s":"RBS","x":0.657,"y":0.736},{"s":"RBS","x":0.660,"y":0.718},{"s":"RBS","x":0.662,"y":0.699},{"s":"RBS","x":0.665,"y":0.712},{"s":"RBS","x":0.668,"y":0.727},{"s":"RBS","x":0.670,"y":0.750},{"s":"RBS","x":0.672,"y":0.772},{"s":"RBS","x":0.675,"y":0.765},{"s":"RBS","x":0.677,"y":0.750},{"s":"RBS","x":0.679,"y":0.738},{"s":"RBS","x":0.681,"y":0.725},{"s":"RBS","x":0.683,"y":0.740},{"s":"RBS","x":0.685,"y":0.758},{"s":"RBS","x":0.688,"y":0.748},{"s":"RBS","x":0.691,"y":0.733},{"s":"RBS","x":0.693,"y":0.755},{"s":"RBS","x":0.695,"y":0.775},{"s":"RBS","x":0.698,"y":0.777},{"s":"RBS","x":0.700,"y":0.778},{"s":"RBS","x":0.703,"y":0.744},{"s":"RBS","x":0.705,"y":0.762},{"s":"RBS","x":0.708,"y":0.783},{"s":"RBS","x":0.711,"y":0.808},{"s":"RBS","x":0.713,"y":0.803},{"s":"RBS","x":0.716,"y":0.800},{"s":"RBS","x":0.719,"y":0.785},{"s":"RBS","x":0.722,"y":0.767},{"s":"RBS","x":0.725,"y":0.762},{"s":"RBS","x":0.727,"y":0.758},{"s":"RBS","x":0.729,"y":0.755},{"s":"RBS","x":0.731,"y":0.750},{"s":"RBS","x":0.733,"y":0.765},{"s":"RBS","x":0.735,"y":0.781},{"s":"RBS","x":0.738,"y":0.770},{"s":"RBS","x":0.741,"y":0.758},{"s":"RBS","x":0.743,"y":0.760},{"s":"RBS","x":0.746,"y":0.761},{"s":"RBS","x":0.749,"y":0.778},{"s":"RBS","x":0.751,"y":0.794},{"s":"RBS","x":0.754,"y":0.786},{"s":"RBS","x":0.757,"y":0.778},{"s":"RBS","x":0.760,"y":0.780},{"s":"RBS","x":0.762,"y":0.783},{"s":"RBS","x":0.764,"y":0.795},{"s":"RBS","x":0.766,"y":0.806},{"s":"RBS","x":0.768,"y":0.815},{"s":"RBS","x":0.770,"y":0.823},{"s":"RBS","x":0.773,"y":0.826},{"s":"RBS","x":0.776,"y":0.828},{"s":"RBS","x":0.778,"y":0.842},{"s":"RBS","x":0.780,"y":0.856},{"s":"RBS","x":0.782,"y":0.854},{"s":"RBS","x":0.784,"y":0.853},{"s":"RBS","x":0.787,"y":0.851},{"s":"RBS","x":0.789,"y":0.850},{"s":"RBS","x":0.791,"y":0.835},{"s":"RBS","x":0.792,"y":0.820},{"s":"RBS","x":0.795,"y":0.833},{"s":"RBS","x":0.797,"y":0.845},{"s":"RBS","x":0.800,"y":0.840},{"s":"RBS","x":0.803,"y":0.834},{"s":"RBS","x":0.805,"y":0.830},{"s":"RBS","x":0.808,"y":0.828},{"s":"RBS","x":0.810,"y":0.844},{"s":"RBS","x":0.812,"y":0.859},{"s":"RBS","x":0.814,"y":0.860},{"s":"RBS","x":0.816,"y":0.861},{"s":"RBS","x":0.818,"y":0.857},{"s":"RBS","x":0.820,"y":0.853},{"s":"RBS","x":0.822,"y":0.862},{"s":"RBS","x":0.824,"y":0.870},{"s":"RBS","x":0.826,"y":0.880},{"s":"RBS","x":0.828,"y":0.890},{"s":"RBS","x":0.830,"y":0.885},{"s":"RBS","x":0.832,"y":0.881},{"s":"RBS","x":0.834,"y":0.891},{"s":"RBS","x":0.836,"y":0.901},{"s":"RBS","x":0.838,"y":0.880},{"s":"RBS","x":0.841,"y":0.861},{"s":"RBS","x":0.843,"y":0.878},{"s":"RBS","x":0.845,"y":0.895},{"s":"RBS","x":0.848,"y":0.884},{"s":"RBS","x":0.850,"y":0.873},{"s":"RBS","x":0.852,"y":0.867},{"s":"RBS","x":0.854,"y":0.861},{"s":"RBS","x":0.856,"y":0.857},{"s":"RBS","x":0.858,"y":0.853},{"s":"RBS","x":0.860,"y":0.890},{"s":"RBS","x":0.861,"y":0.912},{"s":"RBS","x":0.864,"y":0.898},{"s":"RBS","x":0.866,"y":0.884},{"s":"RBS","x":0.869,"y":0.908},{"s":"RBS","x":0.872,"y":0.932},{"s":"RBS","x":0.875,"y":0.927},{"s":"RBS","x":0.877,"y":0.923},{"s":"RBS","x":0.879,"y":0.915},{"s":"RBS","x":0.881,"y":0.906},{"s":"RBS","x":0.884,"y":0.908},{"s":"RBS","x":0.886,"y":0.909},{"s":"RBS","x":0.888,"y":0.901},{"s":"RBS","x":0.890,"y":0.893},{"s":"RBS","x":0.891,"y":0.925},{"s":"RBS","x":0.892,"y":0.943},{"s":"RBS","x":0.895,"y":0.934},{"s":"RBS","x":0.897,"y":0.926},{"s":"RBS","x":0.900,"y":0.929},{"s":"RBS","x":0.903,"y":0.932},{"s":"RBS","x":0.905,"y":0.925},{"s":"RBS","x":0.908,"y":0.918},{"s":"RBS","x":0.911,"y":0.929},{"s":"RBS","x":0.914,"y":0.940},{"s":"RBS","x":0.916,"y":0.944},{"s":"RBS","x":0.919,"y":0.948},{"s":"RBS","x":0.922,"y":0.941},{"s":"RBS","x":0.924,"y":0.934},{"s":"RBS","x":0.927,"y":0.940},{"s":"RBS","x":0.930,"y":0.945},{"s":"RBS","x":0.932,"y":0.950},{"s":"RBS","x":0.935,"y":0.954},{"s":"RBS","x":0.938,"y":0.958},{"s":"RBS","x":0.941,"y":0.962},{"s":"RBS","x":0.943,"y":0.955},{"s":"RBS","x":0.946,"y":0.948},{"s":"RBS","x":0.949,"y":0.953},{"s":"RBS","x":0.951,"y":0.957},{"s":"RBS","x":0.954,"y":0.952},{"s":"RBS","x":0.957,"y":0.948},{"s":"RBS","x":0.959,"y":0.954},{"s":"RBS","x":0.962,"y":0.959},{"s":"RBS","x":0.965,"y":0.965},{"s":"RBS","x":0.968,"y":0.970},{"s":"RBS","x":0.970,"y":0.973},{"s":"RBS","x":0.973,"y":0.976},{"s":"RBS","x":0.976,"y":0.965},{"s":"RBS","x":0.978,"y":0.954},{"s":"RBS","x":0.981,"y":0.965},{"s":"RBS","x":0.984,"y":0.976},{"s":"RBS","x":0.986,"y":0.981},{"s":"RBS","x":0.989,"y":0.985},{"s":"RBS","x":0.992,"y":0.968},{"s":"RBS","x":0.994,"y":0.974},{"s":"RBS","x":0.996,"y":0.979},{"s":"RBS","x":0.998,"y":0.977},{"s":"RBS","x":1.000,"y":0.974}
    ]
  },
  "hconcat": [
    {
      "width": 507,
      "height": 475,
      "title": {"text": ["a)\u00a0\u00a0\u00a0\u00a0\u00a0\u00a0\u00a0\u00a0\u00a0\u00a0\u00a012-taxa data", "\u200b\u00a0\u00a0\u00a0\u00a0\u00a0\u00a0\u00a0\u00a0\u00a0\u00a0\u00a0\u00a0\u00a0\u00a0Analysis: HKY+Γ and JC+Γ"]},
      "layer": [
        {
          "data": {"values": [{"x": 0.6, "y": 0.6}, {"x": 1.0, "y": 1.0}]},
          "mark": {"type": "line", "color": "#8a8a8a", "strokeDash": [4, 3], "strokeWidth": 1.2},
          "encoding": {
            "x": {"field": "x", "type": "quantitative", "scale": {"domain": [0.6, 1.0], "nice": false, "zero": false}, "axis": {"title": "Inferred support", "values": [0.6, 0.65, 0.7, 0.75, 0.8, 0.85, 0.9, 0.95, 1.0], "format": ".2f"}},
            "y": {"field": "y", "type": "quantitative", "scale": {"domain": [0.6, 1.0], "nice": false, "zero": false}, "axis": {"title": "True probability", "values": [0.6, 0.65, 0.7, 0.75, 0.8, 0.85, 0.9, 0.95, 1.0], "format": ".2f"}}
          }
        },
        {
          "data": {"name": "left"},
          "mark": {"type": "point", "filled": false, "opacity": 1, "strokeWidth": 1.2},
          "encoding": {
            "x": {"field": "x", "type": "quantitative"},
            "y": {"field": "y", "type": "quantitative"},
            "stroke": {"field": "s", "type": "nominal",
              "scale": {"domain": ["Perfect", "aBayes HKY", "aBayes JC", "PP (MrBayes) HKY", "PP (MrBayes) JC", "PP (mb2E) HKY"], "range": ["#8a8a8a", "#0b3ef2", "#2a55e8", "#7a1b7b", "#a457a6", "#808080"]},
              "legend": {"title": null, "orient": "none", "legendX": 8, "legendY": 578, "padding": 0, "labelFont": "Liberation Sans", "labelFontSize": 17, "labelColor": "#222222", "labelOffset": 21, "rowPadding": 14.5, "symbolStrokeWidth": 1.2}},
            "fill": {"field": "s", "type": "nominal",
              "scale": {"domain": ["Perfect", "aBayes HKY", "aBayes JC", "PP (MrBayes) HKY", "PP (MrBayes) JC", "PP (mb2E) HKY"], "range": ["transparent", "#0b3ef2", "transparent", "#7a1b7b", "transparent", "transparent"]},
              "legend": {"title": null, "orient": "none", "legendX": 8, "legendY": 578, "padding": 0, "labelFont": "Liberation Sans", "labelFontSize": 17, "labelColor": "#222222", "labelOffset": 21, "rowPadding": 14.5, "symbolStrokeWidth": 1.2}},
            "shape": {"field": "s", "type": "nominal",
              "scale": {"domain": ["Perfect", "aBayes HKY", "aBayes JC", "PP (MrBayes) HKY", "PP (MrBayes) JC", "PP (mb2E) HKY"], "range": ["M-3,0L-2.3,0M-1.65,0L-0.95,0M-0.35,0L0.35,0M0.95,0L1.65,0M2.3,0L3,0", "circle", "circle", "triangle-up", "triangle-up", "M-1,-1L1,1M-1,1L1,-1"]},
              "legend": {"title": null, "orient": "none", "legendX": 8, "legendY": 578, "padding": 0, "labelFont": "Liberation Sans", "labelFontSize": 17, "labelColor": "#222222", "labelOffset": 21, "rowPadding": 14.5, "symbolStrokeWidth": 1.2}},
            "size": {"field": "s", "type": "nominal",
              "scale": {"type": "ordinal", "domain": ["Perfect", "aBayes HKY", "aBayes JC", "PP (MrBayes) HKY", "PP (MrBayes) JC", "PP (mb2E) HKY"], "range": [100, 130, 120, 125, 110, 80]},
              "legend": {"title": null, "orient": "none", "legendX": 8, "legendY": 578, "padding": 0, "labelFont": "Liberation Sans", "labelFontSize": 17, "labelColor": "#222222", "labelOffset": 21, "rowPadding": 14.5, "symbolStrokeWidth": 1.2}}
          }
        }
      ]
    },
    {
      "width": 512,
      "height": 475,
      "title": {"text": ["b)\u00a0\u00a0\u00a0\u00a0\u00a0\u00a0\u00a0\u00a0\u00a0\u00a0\u00a0100-taxa data", "\u200b\u00a0\u00a0\u00a0\u00a0\u00a0\u00a0\u00a0\u00a0\u00a0\u00a0\u00a0\u00a0\u00a0\u00a0Analysis: HKY+Γ"]},
      "data": {"name": "right"},
      "mark": {"type": "line", "opacity": 1},
      "encoding": {
        "x": {"field": "x", "type": "quantitative", "scale": {"domain": [0.6, 1.0], "nice": false, "zero": false}, "axis": {"title": "Inferred support", "values": [0.6, 0.65, 0.7, 0.75, 0.8, 0.85, 0.9, 0.95, 1.0], "format": ".2f"}},
        "y": {"field": "y", "type": "quantitative", "scale": {"domain": [0.6, 1.0], "nice": false, "zero": false}, "axis": {"title": "True probability", "values": [0.6, 0.65, 0.7, 0.75, 0.8, 0.85, 0.9, 0.95, 1.0], "format": ".2f"}},
        "color": {"field": "s", "type": "nominal",
          "scale": {"domain": ["Perfect", "aBayes", "aLRT", "SH-aLRT", "SBS", "RBS"], "range": ["#8a8a8a", "#1b3ffa", "#cc3344", "#ff8512", "#2e7a1c", "#000000"]},
          "legend": {"title": null, "orient": "none", "legendX": 22, "legendY": 573, "padding": 0, "labelFont": "DejaVu Sans", "labelFontSize": 18, "labelColor": "#222222", "labelOffset": 13, "rowPadding": 10.5, "symbolSize": 900, "symbolType": "stroke"}},
        "strokeDash": {"field": "s", "type": "nominal",
          "scale": {"domain": ["Perfect", "aBayes", "aLRT", "SH-aLRT", "SBS", "RBS"], "range": [[4, 3], [1, 0], [1, 0], [1, 0], [1, 0], [1, 0]]},
          "legend": {"title": null, "orient": "none", "legendX": 22, "legendY": 573, "padding": 0, "labelFont": "DejaVu Sans", "labelFontSize": 18, "labelColor": "#222222", "labelOffset": 13, "rowPadding": 10.5, "symbolSize": 900, "symbolType": "stroke"}},
        "strokeWidth": {"field": "s", "type": "nominal",
          "scale": {"type": "ordinal", "domain": ["Perfect", "aBayes", "aLRT", "SH-aLRT", "SBS", "RBS"], "range": [1.2, 2.8, 2.8, 2.8, 2.8, 2.2]},
          "legend": {"title": null, "orient": "none", "legendX": 22, "legendY": 573, "padding": 0, "labelFont": "DejaVu Sans", "labelFontSize": 18, "labelColor": "#222222", "labelOffset": 13, "rowPadding": 10.5, "symbolSize": 900, "symbolType": "stroke"}}
      }
    }
  ],
  "resolve": {"scale": {"stroke": "independent", "fill": "independent", "shape": "independent", "size": "independent", "color": "independent", "strokeDash": "independent", "strokeWidth": "independent"}},
  "config": {
    "view": {"stroke": "#000000", "strokeWidth": 2},
    "axis": {"grid": false, "domainColor": "#000000", "domainWidth": 2, "tickColor": "#000000", "tickWidth": 1.5, "tickSize": 5, "labelFont": "Liberation Sans", "labelFontSize": 18, "labelColor": "#222222", "labelPadding": 10, "titleFont": "Liberation Sans", "titleFontSize": 22, "titleFontWeight": "normal", "titleColor": "#222222"},
    "axisX": {"titlePadding": 23, "labelPadding": 12},
    "axisY": {"titlePadding": 20},
    "title": {"anchor": "start", "frame": "bounds", "font": "DejaVu Sans", "fontSize": 18, "fontWeight": "normal", "color": "#111111", "lineHeight": 25, "offset": 14}
  }
}
